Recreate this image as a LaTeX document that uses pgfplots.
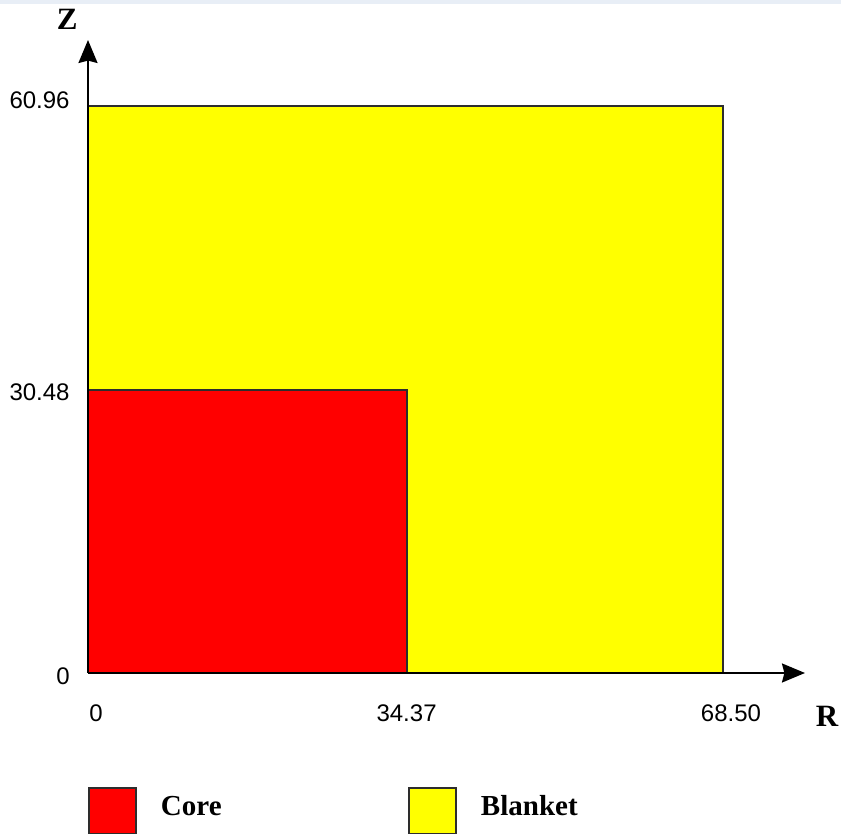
\documentclass[border=0pt]{standalone}
\usepackage{pgfplots}
\pgfplotsset{compat=1.18}
\usetikzlibrary{arrows.meta}
\usepackage{fontspec}
\setmainfont{Liberation Serif}
\newfontfamily\ticksans{Liberation Sans}
\definecolor{edgegray}{RGB}{45,45,45}
\definecolor{topband}{RGB}{232,238,246}
\definecolor{coreRed}{RGB}{255,0,0}
\definecolor{blanketYellow}{RGB}{255,255,0}

\begin{document}
\begin{tikzpicture}
\useasboundingbox (-44pt,-80.5pt) rectangle (376.5pt,336.5pt);
\fill[topband] (-44pt,334.5pt) rectangle (376.5pt,336.5pt);
\begin{axis}[
  at={(0pt,0pt)}, anchor=south west,
  scale only axis, width=358.5pt, height=316.5pt,
  xmin=0, xmax=77.35, ymin=0, ymax=68.06,
  axis lines=left,
  axis line style={line width=1pt, -{Stealth[length=11.5pt,width=9.5pt,inset=1.2pt]}},
  axis on top,
  major tick length=0pt,
  /pgf/number format/assume math mode=true,
  ticklabel style={font=\ticksans\fontsize{12}{12}\selectfont, inner sep=0pt},
  xtick={34.37}, xticklabels={34.37},
  extra x ticks={0,68.5}, extra x tick labels={0,68.50},
  extra x tick style={xticklabel style={xshift=4pt}},
  xticklabel style={anchor=base, yshift=-24.5pt},
  ytick={0,30.48}, yticklabels={0,30.48},
  extra y ticks={60.96}, extra y tick labels={60.96},
  extra y tick style={yticklabel style={anchor=base east, yshift=0.5pt}},
  yticklabel style={anchor=east, xshift=-9pt, yshift=-1.5pt},
  xlabel={\textbf{R}}, ylabel={\textbf{Z}},
  every axis x label/.style={at={(axis description cs:1.031,-0.068)}, anchor=center, font=\fontsize{15.5}{16}\selectfont},
  every axis y label/.style={at={(axis description cs:-0.029,1.033)}, anchor=center, font=\fontsize{15.5}{16}\selectfont},
  legend columns=2,
  reverse legend,
  legend cell align=left,
  legend style={at={(axis description cs:0,-0.1801)}, anchor=north west, draw=none, fill=none,
    inner sep=0pt, outer sep=0pt, nodes={inner sep=0pt},
    font=\bfseries\fontsize{14.5}{15}\selectfont,
    /tikz/every odd column/.append style={column sep=12pt}},
  legend image code/.code={\draw[#1] (0pt,-10pt) rectangle (23.5pt,13pt);},
]
\addplot[fill=blanketYellow, draw=edgegray, line width=1pt] coordinates {(0,0) (68.5,0) (68.5,60.96) (0,60.96)} --cycle;
\addlegendentry{\makebox[123.5pt][l]{\raisebox{7pt}{Blanket}}}
\addplot[fill=coreRed, draw=edgegray, line width=1pt] coordinates {(0,0) (34.37,0) (34.37,30.48) (0,30.48)} --cycle;
\addlegendentry{\makebox[123.5pt][l]{\raisebox{7pt}{Core}}}
\end{axis}
\end{tikzpicture}
\end{document}
